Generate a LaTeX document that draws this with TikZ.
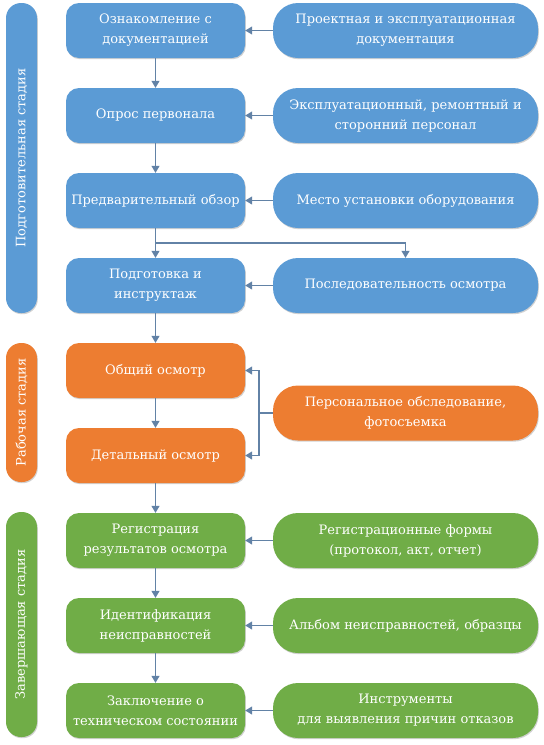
\documentclass[tikz,border=0pt]{standalone}
\usepackage{fontspec}
\setmainfont{DejaVu Serif}
\newfontfamily\tnrfont{DejaVu Serif}
\usetikzlibrary{arrows.meta}
\definecolor{cblue}{RGB}{91,155,213}
\definecolor{corange}{RGB}{237,125,49}
\definecolor{cgreen}{RGB}{112,173,71}
\definecolor{carrow}{RGB}{98,130,166}
\tikzset{
  leftbox/.style={rectangle, rounded corners=13pt, minimum width=179pt, minimum height=55pt, inner sep=2pt, text=white, align=center, font=\tnrfont\fontsize{13}{20}\selectfont},
  rightbox/.style={rectangle, rounded corners=25pt, minimum width=265pt, minimum height=55pt, inner sep=2pt, text=white, align=center, font=\tnrfont\fontsize{13}{20}\selectfont},
  stagebar/.style={rectangle, rounded corners=15pt, minimum width=31pt, inner sep=0pt, text=white, font=\tnrfont\fontsize{13}{18}\selectfont},
  conn/.style={draw=carrow, line width=1.2pt, -{Triangle[width=8pt,length=7pt]}},
  plainline/.style={draw=carrow, line width=1.2pt},
  shadowed/.style={preaction={fill=black!18, transform canvas={xshift=0.8pt,yshift=-1.2pt}}}
}
\begin{document}
\begin{tikzpicture}[x=1pt,y=-1pt]
\useasboundingbox (0,0) rectangle (544,745);
% stage bars
\node[stagebar, fill=cblue, shadowed, minimum height=310pt] (s1) at (21.5,158) {\rotatebox{90}{Подготовительная стадия}};
\node[stagebar, fill=corange, shadowed, minimum height=139pt] (s2) at (21.5,412.5) {\rotatebox{90}{Рабочая стадия}};
\node[stagebar, fill=cgreen, shadowed, minimum height=225pt] (s3) at (21.5,624.5) {\rotatebox{90}{Завершающая стадия}};
% left column
\node[leftbox, fill=cblue, shadowed] (l1) at (155.5,30.5) {Ознакомление с\\документацией};
\node[leftbox, fill=cblue, shadowed] (l2) at (155.5,115.5) {Опрос первонала};
\node[leftbox, fill=cblue, shadowed] (l3) at (155.5,200.5) {Предварительный обзор};
\node[leftbox, fill=cblue, shadowed] (l4) at (155.5,285.5) {Подготовка и\\инструктаж};
\node[leftbox, fill=corange, shadowed] (l5) at (155.5,370.5) {Общий осмотр};
\node[leftbox, fill=corange, shadowed] (l6) at (155.5,455.5) {Детальный осмотр};
\node[leftbox, fill=cgreen, shadowed] (l7) at (155.5,540.5) {Регистрация\\результатов осмотра};
\node[leftbox, fill=cgreen, shadowed] (l8) at (155.5,625.5) {Идентификация\\неисправностей};
\node[leftbox, fill=cgreen, shadowed] (l9) at (155.5,710.5) {Заключение о\\техническом состоянии};
% right column
\node[rightbox, fill=cblue, shadowed] (r1) at (405.5,30.5) {Проектная и эксплуатационная\\документация};
\node[rightbox, fill=cblue, shadowed] (r2) at (405.5,115.5) {Эксплуатационный, ремонтный и\\сторонний персонал};
\node[rightbox, fill=cblue, shadowed] (r3) at (405.5,200.5) {Место установки оборудования};
\node[rightbox, fill=cblue, shadowed] (r4) at (405.5,285.5) {Последовательность осмотра};
\node[rightbox, fill=corange, shadowed] (r5) at (405.5,413) {Персональное обследование,\\фотосъемка};
\node[rightbox, fill=cgreen, shadowed] (r7) at (405.5,540.5) {Регистрационные формы\\(протокол, акт, отчет)};
\node[rightbox, fill=cgreen, shadowed] (r8) at (405.5,625.5) {Альбом неисправностей, образцы};
\node[rightbox, fill=cgreen, shadowed] (r9) at (405.5,710.5) {Инструменты\\для выявления причин отказов};
% vertical arrows
\foreach \a/\b in {l1/l2,l2/l3,l3/l4,l4/l5,l5/l6,l6/l7,l7/l8,l8/l9}
  \draw[conn] (\a.south) -- (\b.north);
% horizontal arrows
\foreach \a/\b in {r1/l1,r2/l2,r3/l3,r4/l4,r7/l7,r8/l8,r9/l9}
  \draw[conn] (\a.west) -- (\b.east);
% branch to r4
\coordinate (bj) at (155.5,243);
\draw[conn] (bj) -| (r4.north);
% bracket from r5
\coordinate (bk) at (259,413);
\draw[plainline] (r5.west) -- (bk);
\draw[conn] (bk) |- (l5.east);
\draw[conn] (bk) |- (l6.east);
\end{tikzpicture}
\end{document}
